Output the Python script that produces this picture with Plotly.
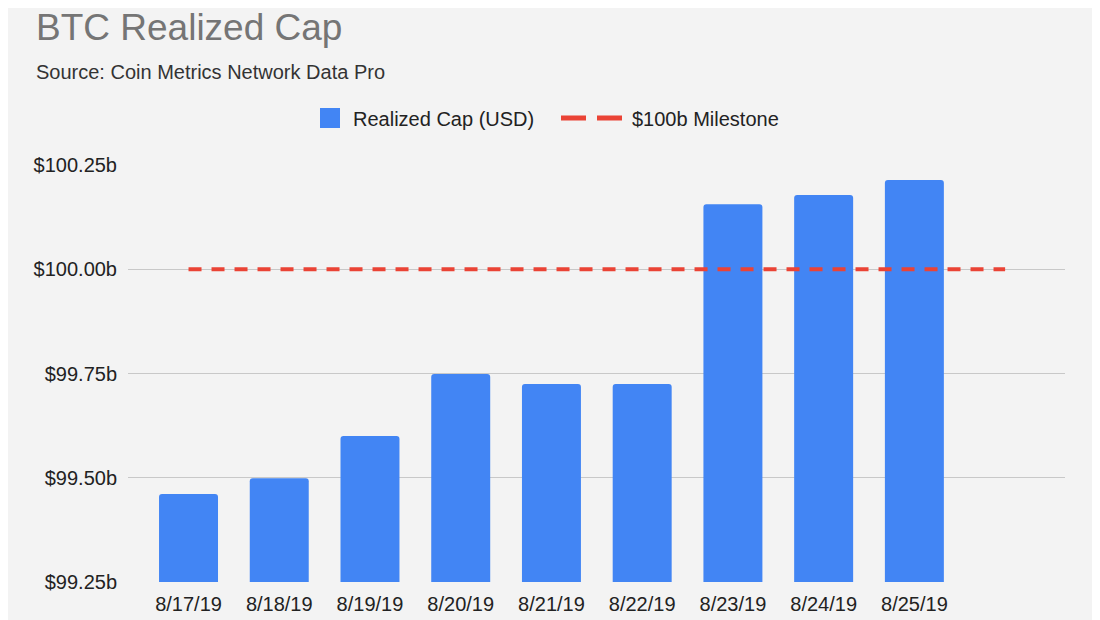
import plotly.graph_objects as go

dates = ["8/17/19", "8/18/19", "8/19/19", "8/20/19", "8/21/19",
         "8/22/19", "8/23/19", "8/24/19", "8/25/19"]
realized_cap = [99.461, 99.499, 99.600, 99.749, 99.725, 99.725, 100.156, 100.178, 100.214]
milestone_pos = [0, 1, 2, 3, 4, 5, 6, 7, 8, 9]
milestone = [100, 100, 100, 100, 100, 100, 100, 100, 100, 100]
ytick_vals = [99.25, 99.50, 99.75, 100.00, 100.25]
ytick_text = ["$99.25b", "$99.50b", "$99.75b", "$100.00b", "$100.25b"]

positions = list(range(len(dates)))
font = "Liberation Sans, Arial, sans-serif"
BLUE = "#4285F4"
RED = "#EA4335"
PW = 937.0  # plot-area width in px

fig = go.Figure()
fig.add_trace(go.Bar(
    x=positions, y=realized_cap, name="Realized Cap (USD)", showlegend=False,
    marker=dict(color=BLUE, cornerradius=3, line=dict(width=0)),
))
fig.add_trace(go.Scatter(
    x=milestone_pos, y=milestone, name="$100b Milestone", mode="lines",
    showlegend=False,
    line=dict(color=RED, width=4, dash="13px,10px"),
))
# legend entries (styled like the reference legend)
fig.add_trace(go.Scatter(
    x=[None], y=[None], name="Realized Cap (USD)", mode="markers",
    marker=dict(symbol="square", size=16, color=BLUE, line=dict(color=BLUE, width=4)),
    legend="legend",
))
fig.add_trace(go.Scatter(
    x=[None], y=[None], name="$100b Milestone", mode="lines",
    line=dict(color=RED, width=5, dash="25px,11px"),
    legend="legend2",
))

fig.update_layout(
    width=1092, height=612,
    paper_bgcolor="#f3f3f3", plot_bgcolor="#f3f3f3",
    margin=dict(l=120, r=35, t=157, b=38, autoexpand=False),
    font=dict(family=font, size=20, color="#222222"),
    bargap=0.35,
    showlegend=True,
    legend=dict(orientation="h", x=(307 - 128) / PW, xanchor="left", y=1.113, yanchor="middle",
                font=dict(size=20, color="#222222"), bgcolor="rgba(0,0,0,0)",
                itemwidth=36),
    legend2=dict(orientation="h", x=(556 - 128) / PW, xanchor="left", y=1.113, yanchor="middle",
                 font=dict(size=20, color="#222222"), bgcolor="rgba(0,0,0,0)",
                 itemwidth=66),
    xaxis=dict(range=[-0.667, 9.66], tickvals=positions, ticktext=dates,
               showgrid=False, zeroline=False, showline=False, ticks="",
               ticklabelstandoff=8, automargin=False,
               tickfont=dict(size=20, color="#222222")),
    yaxis=dict(range=[99.25, 100.25], tickvals=ytick_vals, ticktext=ytick_text,
               showgrid=True, gridcolor="#c8c8c8", gridwidth=1, zeroline=False,
               showline=False, ticks="", ticklabelstandoff=10, automargin=False,
               tickfont=dict(size=20, color="#222222")),
    annotations=[
        dict(text="BTC Realized Cap", xref="paper", yref="paper",
             x=-94/PW, y=1.330, xanchor="left", yanchor="middle", showarrow=False,
             font=dict(size=37, color="#757575", family=font)),
        dict(text="Source: Coin Metrics Network Data Pro", xref="paper", yref="paper",
             x=-94/PW, y=1.223, xanchor="left", yanchor="middle", showarrow=False,
             font=dict(size=20, color="#333333", family=font)),
    ],
)

fig.write_html("out.html")
